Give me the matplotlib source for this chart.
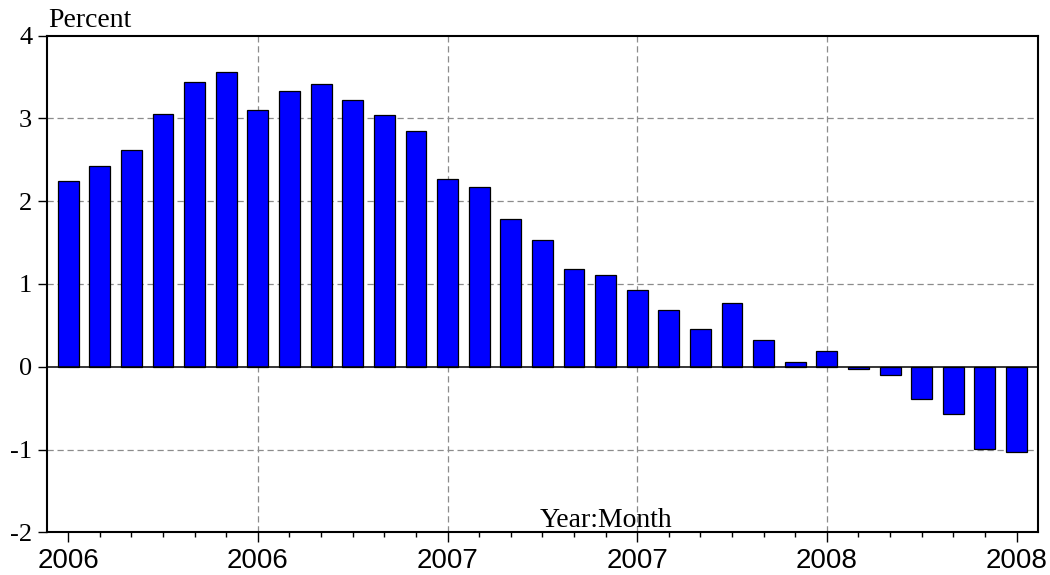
import matplotlib
matplotlib.use("Agg")
import matplotlib.pyplot as plt
from matplotlib.ticker import FixedLocator, MultipleLocator

# Monthly categories 2006M01 .. 2008M07
months = [f"{y}M{m:02d}" for y in (2006, 2007, 2008) for m in range(1, 13)][:31]
values = [2.25, 2.42, 2.62, 3.05, 3.445, 3.56, 3.10, 3.335, 3.415, 3.225, 3.04, 2.845,
          2.265, 2.17, 1.785, 1.535, 1.18, 1.105, 0.93, 0.69, 0.455, 0.775, 0.32, 0.06,
          0.19, -0.025, -0.105, -0.39, -0.57, -0.99, -1.035]
major_idx = [0, 6, 12, 18, 24, 30]
major_labels = [months[i][:4] for i in major_idx]
y_ticks = [-2, -1, 0, 1, 2, 3, 4]
grid_y = [-1, 1, 2, 3]
grid_x = [6, 12, 18, 24]

serif = "Liberation Serif"
sans = "Liberation Sans"

fig = plt.figure(figsize=(10.5, 5.75), dpi=100)
ax = fig.add_axes([0.0445, 0.0743, 0.9441, 0.8636])

x = list(range(len(values)))
ax.bar(x, values, width=0.66, color="#0000ff", edgecolor="black", linewidth=0.9, zorder=3)

for gy in grid_y:
    ax.axhline(gy, color="#8c8c8c", linestyle=(0, (5, 3)), linewidth=0.9, zorder=1)
for gx in grid_x:
    ax.axvline(gx, color="#8c8c8c", linestyle=(0, (5, 3)), linewidth=0.9, zorder=1)
ax.axhline(0, color="black", linewidth=1.1, zorder=4)

ax.set_xlim(-0.68, 30.68)
ax.set_ylim(-2, 4)

ax.yaxis.set_major_locator(FixedLocator(y_ticks))
ax.set_yticklabels([str(v) for v in y_ticks], fontfamily=serif, fontsize=19)
ax.xaxis.set_major_locator(FixedLocator(major_idx))
ax.xaxis.set_minor_locator(MultipleLocator(1))
ax.set_xticklabels(major_labels, fontfamily=sans, fontsize=20)

ax.tick_params(axis="y", direction="out", length=6.5, width=1, pad=4)
ax.tick_params(axis="x", which="major", direction="out", length=7.2, width=1, pad=4)
ax.tick_params(axis="x", which="minor", direction="out", length=3.6, width=1)

for s in ax.spines.values():
    s.set_linewidth(1.5)
    s.set_color("black")

fig.text(0.0457, 0.9536, "Percent", fontfamily=serif, fontsize=20, ha="left", va="baseline")
fig.text(0.577, 0.0835, "Year:Month", fontfamily=serif, fontsize=20, ha="center", va="baseline")

fig.savefig("out.png", dpi=100)
